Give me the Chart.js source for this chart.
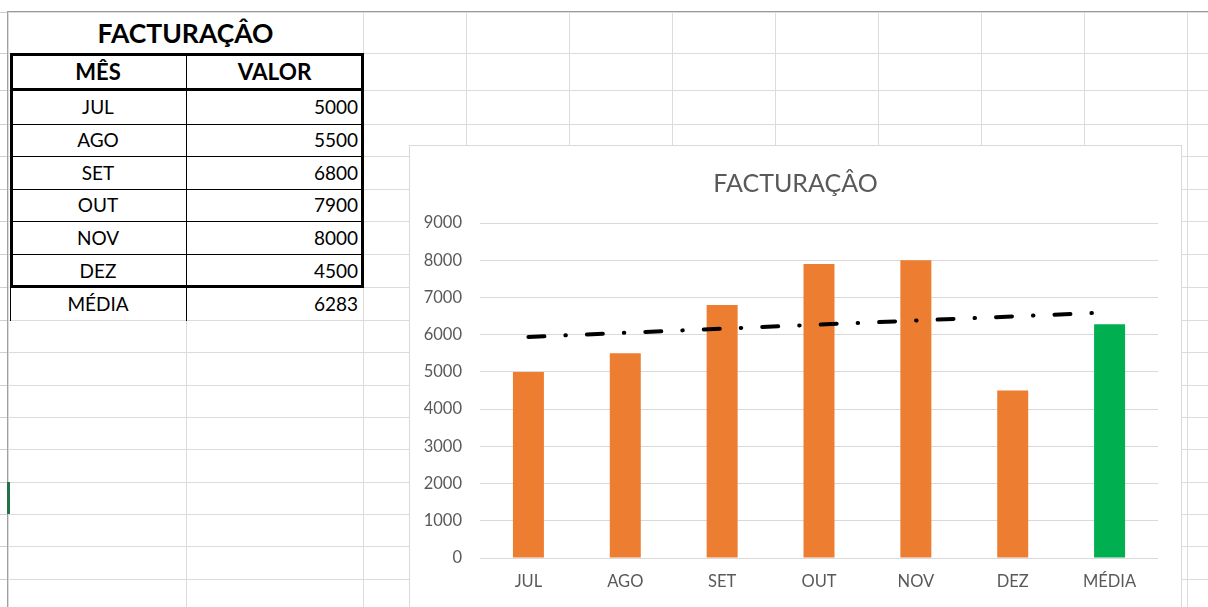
<!DOCTYPE html>
<html>
<head>
<meta charset="utf-8">
<script src="https://cdn.jsdelivr.net/npm/chart.js@4"></script>
<style>
  html, body { margin:0; padding:0; width:1208px; height:607px; overflow:hidden; background:#fff; font-family:Lato, "Noto Sans", sans-serif; }
  .abs { position:absolute; }
  .txt { position:absolute; color:#000; white-space:nowrap; }
  #chartBox { position:absolute; left:409px; top:145px; width:771px; height:470px; border:1px solid #d9d9d9; background:#fff; }
  #chartWrap { position:absolute; left:0; top:0; width:771px; height:461px; }
</style>
</head>
<body>
<div id="sheet"></div>
<div id="chartBox"><div id="chartWrap"><canvas id="c"></canvas></div></div>
<script>
// ---- data ----
const tableTitle = "FACTURAÇÂO";
const headers = ["MÊS", "VALOR"];
const months = ["JUL", "AGO", "SET", "OUT", "NOV", "DEZ"];
const values = [5000, 5500, 6800, 7900, 8000, 4500];
const avgLabel = "MÉDIA";
const avgValue = 6283;
const trendValues = [5940, 6050, 6160, 6270, 6380, 6490, 6600];
const yTicks = [0, 1000, 2000, 3000, 4000, 5000, 6000, 7000, 8000, 9000];

// ---- spreadsheet background ----
const sheet = document.getElementById('sheet');
function box(l, t, w, h, bg, cls) {
  const d = document.createElement('div');
  d.className = cls || 'abs';
  d.style.left = l + 'px'; d.style.top = t + 'px';
  d.style.width = w + 'px'; d.style.height = h + 'px';
  if (bg) d.style.background = bg;
  sheet.appendChild(d);
  return d;
}
const colX = [8, 186, 363, 466, 569, 672, 775, 878, 981, 1084, 1187];
const rowY = [12, 53, 90, 124, 156, 189, 221, 254, 287, 320, 352, 385, 417, 449, 482, 514, 546, 579];
colX.forEach(x => box(x, 12, 1, 600, '#dcdcdc'));
rowY.forEach(y => box(8, y, 1210, 1, '#dcdcdc'));
rowY.forEach(y => box(0, y, 8, 1, '#cfcfcf'));
box(8, 11, 1210, 1, '#9a9a9a');
box(7, 11, 1, 600, '#a0a0a0');
box(7, 482, 3, 32, '#217346');

function text(str, l, t, w, h, opts) {
  const d = box(l, t, w, h, null, 'txt');
  d.textContent = str;
  d.style.lineHeight = h + 'px';
  d.style.fontSize = (opts.size || 19) + 'px';
  d.style.fontWeight = opts.bold ? '700' : '400';
  d.style.textAlign = opts.align || 'center';
  if (opts.pr) { d.style.paddingRight = opts.pr + 'px'; d.style.boxSizing = 'border-box'; }
  return d;
}
// white out title row gridlines
box(9, 13, 354, 40, '#fff');
text(tableTitle, 8, 12, 355, 42, { size: 26.5, bold: true });
text(headers[0], 10, 53, 176, 37, { size: 22, bold: true });
text(headers[1], 186, 53, 177, 37, { size: 22.5, bold: true });
months.forEach((m, i) => {
  const t = rowY[2 + i], h = rowY[3 + i] - t;
  text(m, 10, t, 176, h, { size: 19 });
  text(String(values[i]), 186, t, 177, h, { size: 19, align: 'right', pr: 5 });
});
text(avgLabel, 10, rowY[8], 176, rowY[9] - rowY[8], { size: 19 });
text(String(avgValue), 186, rowY[8], 177, rowY[9] - rowY[8], { size: 19, align: 'right', pr: 5 });

// table borders
for (let i = 3; i < 8; i++) box(10, rowY[i], 353, 1, '#000');
box(186, 53, 1, 268, '#000');
box(10, 287, 1, 34, '#000');
const outline = box(10, 53, 354, 235, null);
outline.style.border = '3px solid #000';
outline.style.boxSizing = 'border-box';
box(10, 88, 354, 3, '#000');

// ---- chart ----
const labels = months.concat([avgLabel]);
const barData = values.concat([avgValue]);
const barColors = months.map(() => '#ED7D31').concat(['#00B050']);

new Chart(document.getElementById('c'), {
  type: 'bar',
  data: {
    labels: labels,
    datasets: [
      {
        type: 'line',
        data: trendValues,
        borderColor: '#000',
        borderWidth: 4,
        borderDash: [16, 21, 0.5, 21],
        borderCapStyle: 'round',
        pointRadius: 0,
        fill: false,
        order: 0
      },
      {
        type: 'bar',
        data: barData,
        backgroundColor: barColors,
        borderWidth: 0,
        categoryPercentage: 1,
        barPercentage: 0.32,
        order: 1
      }
    ]
  },
  options: {
    responsive: true,
    maintainAspectRatio: false,
    animation: false,
    layout: { padding: 0 },
    plugins: {
      legend: { display: false },
      tooltip: { enabled: false },
      title: {
        display: true,
        text: tableTitle,
        color: '#595959',
        font: { family: 'Lato', size: 25, weight: '400', lineHeight: 1.2 },
        padding: { top: 23, bottom: 24 }
      }
    },
    scales: {
      x: {
        grid: { display: false, drawTicks: false },
        border: { display: false },
        ticks: { color: '#595959', font: { family: 'Lato', size: 16.5 }, padding: 14 },
        afterFit: s => { s.height = 49; }
      },
      y: {
        min: 0, max: 9000,
        afterBuildTicks: s => { s.ticks = yTicks.map(v => ({ value: v })); },
        grid: { color: '#d9d9d9', lineWidth: 1, drawTicks: false },
        border: { display: false },
        ticks: { color: '#595959', font: { family: 'Lato', size: 16.5 }, padding: 18, callback: v => String(v) },
        afterFit: s => { s.width = 70; }
      },
      yRight: {
        position: 'right',
        display: true,
        min: 0, max: 9000,
        grid: { display: false, drawTicks: false },
        border: { display: false },
        ticks: { display: false },
        afterFit: s => { s.width = 23; }
      }
    }
  }
});
</script>
</body>
</html>
